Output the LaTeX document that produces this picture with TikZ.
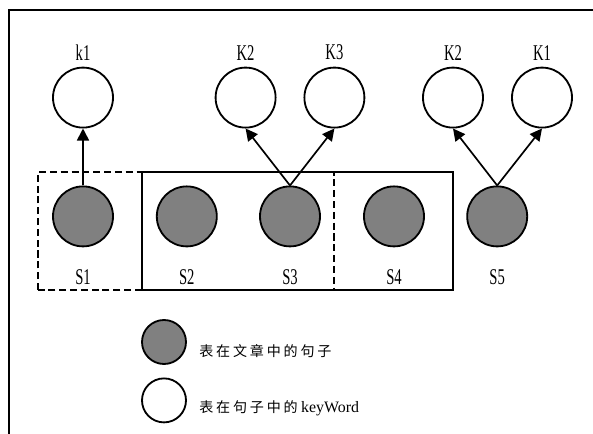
\documentclass[tikz,border=0pt]{standalone}
\usepackage{fontspec}
\setmainfont{Liberation Serif}
\newfontfamily\narrowfont{Liberation Serif}[FakeStretch=0.65]
\newfontfamily\cjk{Noto Sans CJK SC}[LetterSpace=20]
\usetikzlibrary{arrows.meta}

\begin{document}
\begin{tikzpicture}[
  sent/.style={circle, draw, line width=1.3pt, fill=black!50, minimum size=1.5cm, inner sep=0pt},
  kw/.style={circle, draw, line width=1.3pt, fill=white, minimum size=1.5cm, inner sep=0pt},
  tag/.style={font=\narrowfont\fontsize{16}{16}\selectfont, inner sep=0pt},
  link/.style={-{Triangle[length=3mm,width=3mm]}, line width=1.2pt},
  group/.style={line width=1.3pt},
]
\useasboundingbox (0,0) rectangle (14.825,10.85);
\clip (0,0) rectangle (14.825,10.85);

% outer frame
\draw[line width=1.3pt] (0.225,-1) -- (0.225,10.6) -- (16,10.6);

% keywords
\node[kw, label={[tag, label distance=0.16cm]above:k1}] (kw1) at (2.075,8.41) {};
\node[kw, label={[tag, label distance=0.16cm]above:K2}] (kw2) at (6.14,8.41) {};
\node[kw, label={[tag, label distance=0.16cm]above:K3}] (kw3) at (8.36,8.41) {};
\node[kw, label={[tag, label distance=0.16cm]above:K2}] (kw4) at (11.325,8.41) {};
\node[kw, label={[tag, label distance=0.16cm]above:K1}] (kw5) at (13.55,8.41) {};

% sentences
\foreach \i/\x in {1/2.075, 2/4.67, 3/7.25, 4/9.85, 5/12.43} {
  \node[sent, label={[tag, label distance=0.55cm]below:S\i}] (s\i) at (\x,5.44) {};
}

% windows over the sentences
\draw[group] (3.56,3.6) rectangle (11.33,6.56);
\draw[group, dash pattern=on 5pt off 2.7pt] (0.96,3.6) rectangle (8.36,6.56);

\draw[link] (s1.north) -- (kw1.south);
\draw[link] (s3.north) -- (kw2.south);
\draw[link] (s3.north) -- (kw3.south);
\draw[link] (s5.north) -- (kw4.south);
\draw[link] (s5.north) -- (kw5.south);

% legend
\node[sent, minimum size=1.1cm] (lsent) at (4.1,2.3) {};
\node[kw, minimum size=1.1cm] (lkw) at (4.1,0.84) {};
\node[anchor=west, inner sep=0pt, font=\fontsize{10}{10}\selectfont] (lsenttxt) at (4.975,2.08) {\cjk 表在文章中的句子};
\node[anchor=west, inner sep=0pt, font=\fontsize{10}{10}\selectfont] (lkwtxt) at (4.975,0.64)
  {{\cjk 表在句子中的} {\fontsize{11.3}{12}\selectfont keyWord}};

\end{tikzpicture}
\end{document}
